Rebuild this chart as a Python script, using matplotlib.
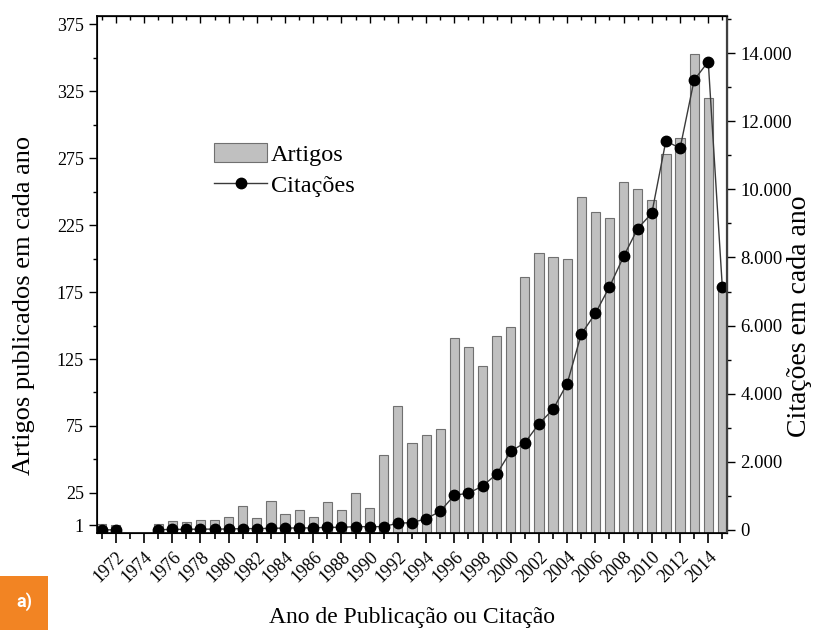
import numpy as np
import matplotlib
matplotlib.use("Agg")
import matplotlib.pyplot as plt
from matplotlib.ticker import FixedLocator, FuncFormatter
from matplotlib.patches import Rectangle

plt.rcParams["font.family"] = ["Liberation Serif", "DejaVu Serif"]

# ---------- data -------------------------------------------------------
years = list(range(1971, 2016))
# nan = no bar drawn (no articles that year)
artigos = [2, 1, np.nan, np.nan, 2, 4, 3, 5, 5, 7,
           15, 6, 19, 9, 12, 7, 18, 12, 25, 14,
           53, 90, 62, 68, 73, 141, 134, 120, 142, 149,
           186, 204, 201, 200, 246, 235, 230, 257, 252, 244,
           278, 290, 353, 320, 180]
citacoes = [5, 3, np.nan, np.nan, 10, 15, 20, 25, 25, 30,
            40, 40, 50, 55, 60, 60, 80, 75, 100, 95,
            100, 200, 215, 330, 550, 1020, 1080, 1290, 1640, 2310,
            2560, 3120, 3540, 4300, 5750, 6360, 7140, 8030, 8850, 9300,
            11430, 11200, 13210, 13750, 7120]

left_ticks = [1, 25, 75, 125, 175, 225, 275, 325, 375]
left_minor = list(range(50, 376, 50))
right_ticks = list(range(0, 14001, 2000))
right_minor = list(range(1000, 15001, 2000))
x_major = list(range(1972, 2015, 2))
x_minor = list(range(1971, 2016, 2))

Y_LO, Y_HI = -4.85, 381      # left axis range (bars start at the axis floor)

# ---------- figure ------------------------------------------------------
fig = plt.figure(figsize=(8.3, 6.3), dpi=100)
ax = fig.add_axes([0.1169, 0.154, 0.759, 0.8206])
ax2 = ax.twinx()

heights = np.array(artigos, dtype=float) - Y_LO
ax.bar(years, heights, bottom=Y_LO, width=0.65, color="#c0c0c0",
       edgecolor="#707070", linewidth=0.8, label="Artigos", zorder=2)
ax2.plot(years, citacoes, color="#3a3a3a", lw=1.0, marker="o", ms=7.5,
         mfc="black", mec="black", label="Citações")

ax.set_xlim(1970.67, 2015.33)
ax.set_ylim(Y_LO, Y_HI)
ax2.set_ylim(-88, 15090)

ax.set_xticks(x_major)
ax.set_xticklabels([str(y) for y in x_major], rotation=45, ha="right",
                   rotation_mode="anchor", fontsize=13)
ax.xaxis.set_minor_locator(FixedLocator(x_minor))
ax.tick_params(axis="x", which="major", direction="out", length=7, width=1.2, pad=4)
ax.tick_params(axis="x", which="minor", direction="out", length=4, width=1.2)

ax.set_yticks(left_ticks)
ax.yaxis.set_minor_locator(FixedLocator(left_minor))
ax.tick_params(axis="y", which="major", direction="out", length=6, width=1.0,
               labelsize=13)
ax.tick_params(axis="y", which="minor", direction="out", length=3, width=1.0)

ax2.set_yticks(right_ticks)
ax2.yaxis.set_minor_locator(FixedLocator(right_minor))
ax2.yaxis.set_major_formatter(
    FuncFormatter(lambda v, p: f"{v:,.0f}".replace(",", ".")))
ax2.tick_params(axis="y", which="major", direction="out", length=6, width=1.0,
                labelsize=13.5)
ax2.tick_params(axis="y", which="minor", direction="out", length=3, width=1.0)

# top ticks pointing inward
top = ax.secondary_xaxis("top")
top.set_xticks(x_major)
top.set_xticklabels([])
top.xaxis.set_minor_locator(FixedLocator(x_minor))
top.tick_params(which="major", direction="in", length=5, width=1.0)
top.tick_params(which="minor", direction="in", length=3, width=1.0)

for sp in ["left", "bottom", "top"]:
    ax.spines[sp].set_linewidth(1.2)
ax2.spines["right"].set_color("#404040")
ax2.spines["right"].set_linewidth(1.6)

ax.set_ylabel("Artigos publicados em cada ano", fontsize=19)
ax.yaxis.set_label_coords(-0.098, 0.44)
ax2.set_ylabel("Citações em cada ano", fontsize=20)
ax2.yaxis.set_label_coords(1.095, 0.42)
ax.set_xlabel("Ano de Publicação ou Citação", fontsize=17)
ax.xaxis.set_label_coords(0.5, -0.143)

h1, l1 = ax.get_legend_handles_labels()
h2, l2 = ax2.get_legend_handles_labels()
ax2.legend(h1 + h2, l1 + l2, loc="upper left", bbox_to_anchor=(0.17, 0.773),
           frameon=False, fontsize=17.5, handlelength=2.2, handleheight=0.85,
           handletextpad=0.15, labelspacing=0.3, borderaxespad=0)

# orange panel tag
fig.patches.append(Rectangle((0, 0), 48 / 830, 54 / 630, transform=fig.transFigure,
                             facecolor="#f28423", edgecolor="none"))
fig.text(24 / 830, 28 / 630, "a)", color="white", fontsize=13, fontweight="bold",
         family=["Roboto", "DejaVu Sans"], ha="center", va="center")

fig.savefig("out.png", dpi=100)
